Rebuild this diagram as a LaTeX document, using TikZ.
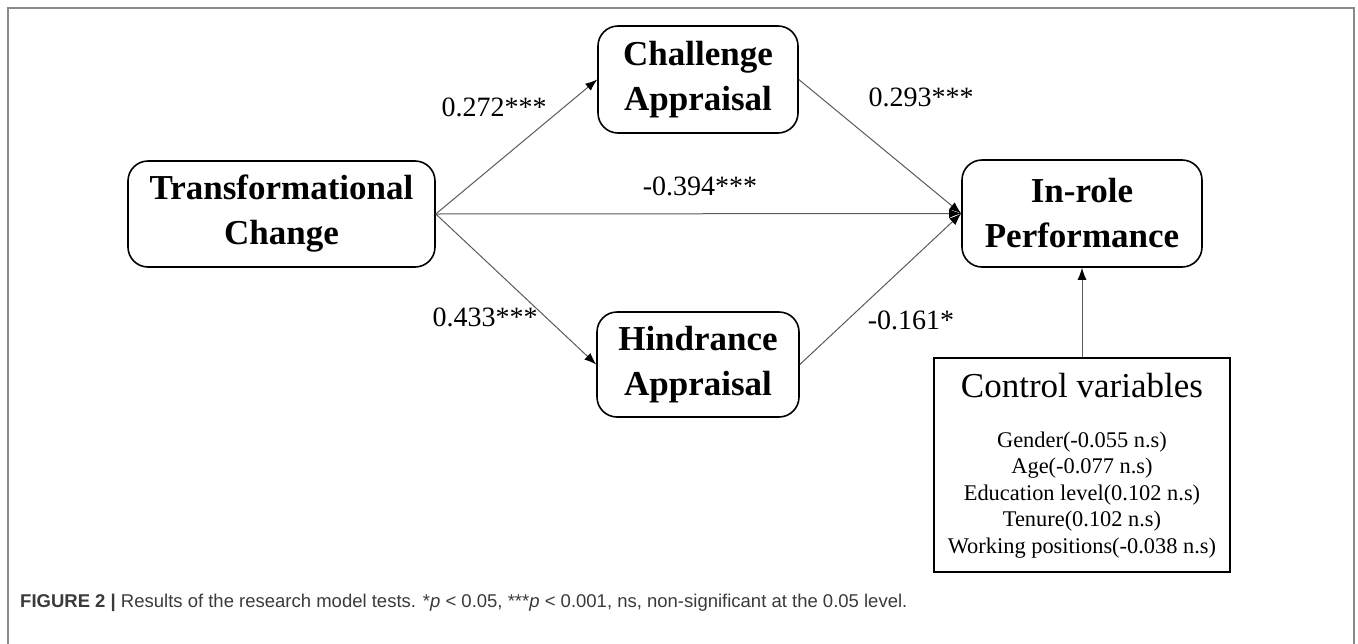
\documentclass[tikz,border=0pt]{standalone}
\usepackage{fontspec}
\setmainfont{Liberation Serif}
\newfontfamily\capfont{Liberation Sans}
\usetikzlibrary{arrows.meta,calc}
\definecolor{framegray}{HTML}{8A8A8A}
\definecolor{linegray}{HTML}{5A5A5A}
\definecolor{capgray}{HTML}{3A3A3A}
\tikzset{
  varbox/.style={draw=black, line width=1.6pt, rounded corners=20pt, align=center, inner sep=0pt,
    font=\fontsize{35}{45}\selectfont\bfseries},
  ctrlbox/.style={draw=black, line width=1.6pt, inner sep=0pt},
  path/.style={draw=linegray, line width=1pt, -{Latex[length=12pt,width=9pt,color=black]}},
  coef/.style={font=\fontsize{28}{32}\selectfont, inner sep=0pt}
}
\begin{document}
\begin{tikzpicture}[x=1pt,y=-1pt]
\useasboundingbox (0,0) rectangle (1358,643);
% outer frame (open at bottom)
\draw[framegray, line width=2pt] (8,700) -- (8,8) -- (1354,8) -- (1354,700);
% boxes
\node[varbox, minimum width=307pt, minimum height=106pt] (tc) at (281.5,214) {Transformational\\Change};
\node[varbox, minimum width=200pt, minimum height=107pt] (ca) at (698,79.5) {Challenge\\Appraisal};
\node[varbox, minimum width=202pt, minimum height=105pt] (ha) at (698,364.5) {Hindrance\\Appraisal};
\node[varbox, minimum width=240pt, minimum height=107pt] (ir) at (1082,213.5) {In-role\\Performance};
\node[ctrlbox, minimum width=296pt, minimum height=214pt] (cv) at (1082,465) {};
\node[font=\fontsize{35}{40}\selectfont, inner sep=0pt] (cvt) at (1082,386) {Control variables};
\node[font=\fontsize{22.4}{26.6}\selectfont, align=center, inner sep=0pt] (cvi) at (1082,495)
  {Gender(-0.055 n.s)\\Age(-0.077 n.s)\\Education level(0.102 n.s)\\Tenure(0.102 n.s)\\Working positions(-0.038 n.s)};
% connectors
\draw[path] (tc.east) -- (ca.west);
\draw[path] (tc.east) -- (ha.west);
\draw[path] (tc.east) -- (ir.west);
\draw[path] (ca.east) -- (ir.west);
\draw[path] (ha.east) -- (ir.west);
\draw[path] (cv.north) -- (ir.south);
% coefficients
\node[coef] (l1) at (494,107) {0.272***};
\node[coef] (l2) at (700,186) {-0.394***};
\node[coef] (l3) at (921,97) {0.293***};
\node[coef] (l4) at (485,317) {0.433***};
\node[coef] (l5) at (911,320) {-0.161*};
% caption
\node[anchor=west, inner sep=0pt, text=capgray, font=\capfont\fontsize{18.5}{22}\selectfont] (cap) at (20,603)
  {\textbf{FIGURE 2 |} Results of the research model tests. *\textit{p} < 0.05, ***\textit{p} < 0.001, ns, non-significant at the 0.05 level.};
\end{tikzpicture}
\end{document}
